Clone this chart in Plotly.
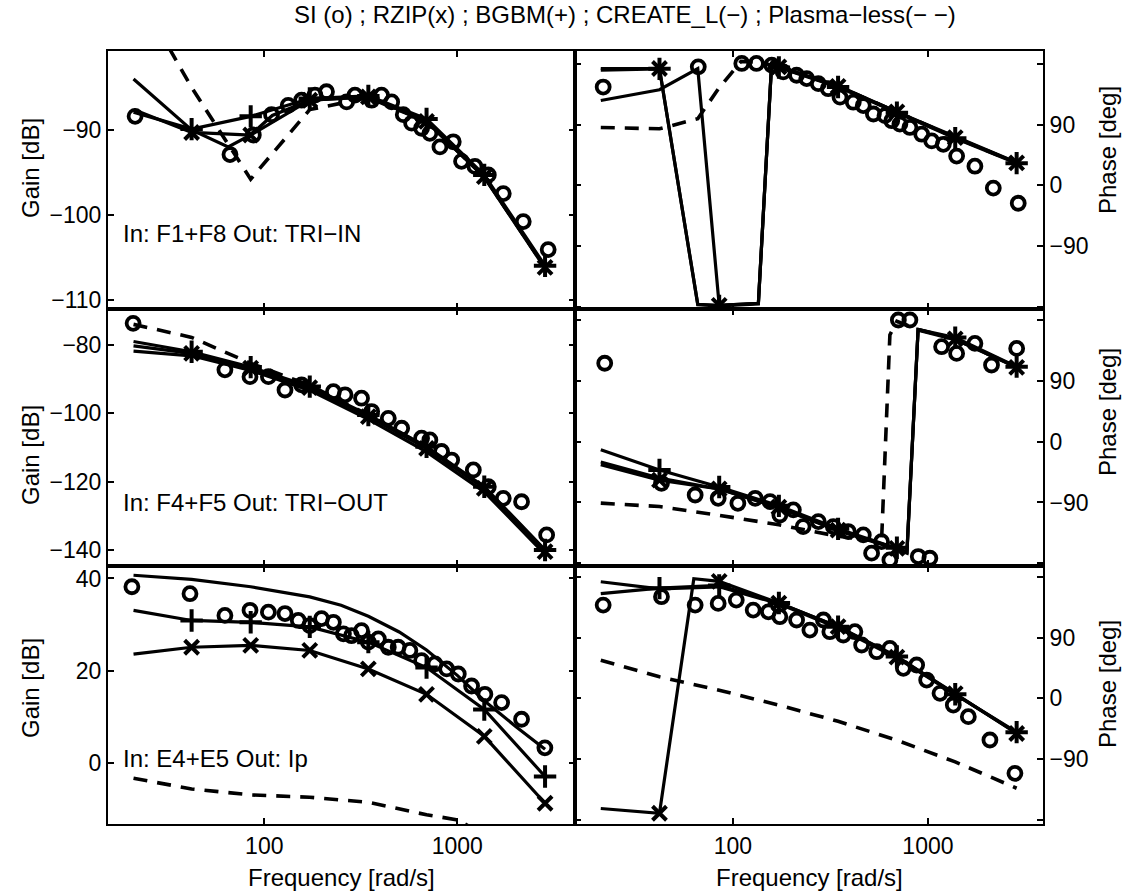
import plotly.graph_objects as go

# ---------------- data ----------------
MARK_F = [42, 85, 172, 346, 693, 1380, 2850]   # frequencies that carry x / + markers

# Panel 1 : gain, In: F1+F8 Out: TRI-IN
p1_si_f = [21.4, 66.4, 87.7, 109, 133, 156, 183, 210, 267, 295, 360, 405, 457, 525, 580,
           653, 721, 813, 953, 1052, 1235, 1448, 1731, 2197, 2958]
p1_si_v = [-88.4, -92.9, -90.6, -88.2, -87.1, -86.5, -85.9, -85.5, -86.7, -85.9, -86.5, -85.9,
           -86.7, -88.2, -89.2, -89.8, -90.4, -92.0, -91.4, -93.7, -94.3, -95.3, -97.5, -100.8, -104.1]
p1_f = [21, 42, 85, 172, 346, 693, 1380, 2850]
p1_rzip = [-87.6, -90.3, -90.6, -86.5, -86.1, -89.0, -95.5, -106.2]
p1_bgbm = [-87.9, -89.9, -88.4, -86.3, -86.0, -88.7, -95.3, -106.0]
p1_create_f = [21, 42, 65, 85, 110, 172, 346, 693, 1380, 2850]
p1_create = [-84.0, -90.0, -92.0, -90.6, -88.3, -86.5, -86.1, -89.0, -95.6, -106.3]
p1_pl = [-73.0, -85.0, -95.8, -87.6, -86.2, -89.0, -95.5, -106.2]

# Panel 2 : phase, In: F1+F8 Out: TRI-IN
p2_si_f = [21.6, 66.4, 111, 132, 158, 181, 212, 239, 274, 308, 354, 414, 466, 525, 602,
           652, 718, 808, 929, 1045, 1199, 1403, 1741, 2163, 2904]
p2_si_v = [146, 176, 181, 181, 178.5, 168.5, 163.5, 158.5, 151, 143.5, 131, 123.5, 118.5, 106,
           103.5, 96, 91, 86, 76, 66, 61, 43.5, 28.5, -4, -26.5]
p2_f = [21, 42, 66, 85, 135, 158, 172, 346, 693, 1380, 2850]
p2_rzip = [173.5, 173.5, -176.5, -178, -175, 183, 176, 147, 109, 71, 33.5]
p2_bgbm = [171, 173, -177, -179, -176, 182, 175, 146, 108, 70, 33]
p2_create = [126, 142, 173.5, -178, -175, 183, 176, 148, 109, 72, 34]
p2_pl_f = [21, 42, 66, 85, 110, 135, 172, 346, 693, 1380, 2850]
p2_pl = [86, 84, 99, 145, 184, 183, 176, 147, 109, 71, 33.5]

# Panel 3 : gain, In: F4+F5 Out: TRI-OUT
p3_si_f = [20.9, 62.5, 84.3, 105, 128, 156, 228, 262, 319, 360, 439, 515, 653, 721, 829,
           935, 1211, 1448, 1731, 2153, 2904]
p3_si_v = [-73.7, -87.3, -89.3, -89.3, -93.2, -91.7, -93.7, -94.6, -95.6, -99.5, -101.5,
           -104.4, -107.3, -107.8, -111.2, -113.7, -116.6, -121.5, -124.9, -125.9, -135.6]
p3_f = [21, 42, 85, 172, 346, 693, 1380, 2850]
p3_rzip = [-80.3, -82.5, -86.8, -92.5, -101.0, -110.3, -122.0, -140.5]
p3_bgbm = [-79.0, -82.0, -86.5, -92.2, -100.5, -109.8, -121.5, -140.0]
p3_create = [-81.8, -83.2, -87.5, -93.3, -101.8, -111.3, -123.0, -141.3]
p3_pl = [-74.0, -77.8, -85.4, -91.8, -100.5, -110.0, -121.8, -140.3]

# Panel 4 : phase, In: F4+F5 Out: TRI-OUT
p4_si_f = [22, 43, 64, 84, 106, 130, 155, 174, 204, 229, 274, 327, 390, 466, 514, 578, 638,
           705, 808, 892, 1023, 1175, 1403, 1741, 2118, 2851]
p4_si_v = [116, -61.6, -78.9, -83.8, -91.2, -83.8, -88.7, -108.5, -101, -125.7, -118.3, -125.7,
           -133, -138, -165, -148, -175, 180, 180, -170, -172.5, 140.5, 130.6, 145.4, 113.4, 138]
p4_f = [21, 42, 85, 172, 346, 693, 780, 890, 1380, 2850]
p4_rzip = [-34, -57, -70, -97, -131, -158, -164, 166, 152, 110]
p4_bgbm = [-12, -42, -67, -95, -129, -157, -163, 166, 154, 111]
p4_create = [-30, -54, -70, -98, -132, -159, -165, 165, 151, 110]
p4_pl_f = [21, 42, 85, 172, 346, 578, 638, 693, 890, 1380, 2850]
p4_pl = [-91, -96, -109, -123, -140, -148, 158, 178, 166, 152, 110]

# Panel 5 : gain, In: E4+E5 Out: Ip
p5_si_f = [20.6, 41.2, 62.5, 84.3, 105, 128, 150, 172, 198, 228, 257, 283, 319, 346, 390, 439,
           494, 568, 653, 766, 881, 1012, 1186, 1390, 1697, 2153, 2844]
p5_si_v = [38.2, 36.7, 32.0, 33.1, 32.7, 32.4, 30.9, 29.8, 31.3, 30.5, 28.0, 27.6, 28.7, 26.2,
           26.9, 25.1, 25.1, 24.4, 22.2, 21.5, 20.4, 19.3, 16.7, 14.9, 13.1, 9.5, 3.3]
p5_f = [21, 42, 85, 172, 346, 693, 1380, 2850]
p5_rzip = [23.6, 25.1, 25.5, 24.4, 20.4, 14.9, 5.8, -8.7]
p5_bgbm = [33.1, 30.9, 30.5, 29.5, 26.2, 20.7, 11.6, -2.9]
p5_create_f = [21, 42, 85, 172, 250, 346, 500, 693, 1000, 1380, 2000, 2850]
p5_create = [40.7, 39.8, 38.2, 36.0, 34.2, 31.8, 28.4, 24.5, 19.0, 13.5, 8.0, 3.0]
p5_pl_f = [21, 42, 85, 172, 346, 693, 1000, 1380]
p5_pl = [-3.3, -5.6, -6.9, -7.4, -8.5, -11.2, -12.3, -15.5]

# Panel 6 : phase, In: E4+E5 Out: Ip
p6_si_f = [21.6, 43, 64, 84, 104, 127, 152, 174, 212, 248, 291, 314, 368, 422, 457, 546, 638,
           748, 875, 985, 1153, 1349, 1611, 2079, 2793]
p6_si_v = [138, 150.4, 138, 140.5, 145.4, 130.6, 128, 120.8, 115.9, 101, 115.9, 98.6, 93.7,
           98.6, 78.9, 69, 74, 44.4, 49.3, 27.1, 7.4, -9.9, -27.1, -61.6, -111]
p6_rzip_f = [21, 42, 63, 85, 172, 346, 693, 1380, 2850]
p6_rzip = [-163, -170, 177, 173, 141, 106, 61, 7, -52]
p6_f = [21, 42, 85, 172, 346, 693, 1380, 2850]
p6_bgbm = [155, 163, 167, 141, 106, 62, 6, -50]
p6_create = [172.5, 162, 165, 140, 104, 60, 6, -51]
p6_pl = [56.5, 32, 12, -10, -34, -62, -94, -133]

TITLE = "SI (o) ; RZIP(x) ; BGBM(+) ; CREATE_L(\u2212) ; Plasma\u2212less(\u2212 \u2212)"
LABELS = ["In: F1+F8 Out: TRI\u2212IN", "In: F4+F5 Out: TRI\u2212OUT", "In: E4+E5 Out: Ip"]

panels = [
    dict(si=(p1_si_f, p1_si_v), pl=(p1_f, p1_pl), create=(p1_create_f, p1_create),
         rzip=(p1_f, p1_rzip), bgbm=(p1_f, p1_bgbm)),
    dict(si=(p2_si_f, p2_si_v), pl=(p2_pl_f, p2_pl), create=(p2_f, p2_create),
         rzip=(p2_f, p2_rzip), bgbm=(p2_f, p2_bgbm)),
    dict(si=(p3_si_f, p3_si_v), pl=(p3_f, p3_pl), create=(p3_f, p3_create),
         rzip=(p3_f, p3_rzip), bgbm=(p3_f, p3_bgbm)),
    dict(si=(p4_si_f, p4_si_v), pl=(p4_pl_f, p4_pl), create=(p4_f, p4_create),
         rzip=(p4_f, p4_rzip), bgbm=(p4_f, p4_bgbm)),
    dict(si=(p5_si_f, p5_si_v), pl=(p5_pl_f, p5_pl), create=(p5_create_f, p5_create),
         rzip=(p5_f, p5_rzip), bgbm=(p5_f, p5_bgbm)),
    dict(si=(p6_si_f, p6_si_v), pl=(p6_f, p6_pl), create=(p6_f, p6_create),
         rzip=(p6_rzip_f, p6_rzip), bgbm=(p6_f, p6_bgbm)),
]

# ---------------- styling / layout ----------------
FONT = "Liberation Sans, Arial, Helvetica, sans-serif"
BLACK = "black"
LW = 3.2

Y_RANGES = [[-111.1, -80.7], [-183.5, 199.5], [-144.7, -69.5], [-184.0, 196.3],
            [-13.2, 42.7], [-185.9, 195.8]]
GAIN_TICKS = [[-110, -100, -90], None, [-140, -120, -100, -80], None, [0, 20, 40], None]
PHASE_TICKS = [-180, -90, 0, 90, 180]
PHASE_TEXT = ["", "\u221290", "0", "90", ""]

W, H = 1126, 893
L, R, T, B = 108, 83, 51, 69
PW, PH = W - L - R, H - T - B
XSPLIT = (575 - L) / PW
ROW_EDGES = [51, 309, 566, 824]
GAIN_LABEL_Y = [168, 455, 688]
PHASE_LABEL_Y = [150, 412, 684]


def ypaper(py):
    return (H - B - py) / PH


fig = go.Figure()

for i, p in enumerate(panels):
    n = i + 1
    xa = "x" if n == 1 else f"x{n}"
    ya = "y" if n == 1 else f"y{n}"
    # Plasma-less (dashed)
    f, v = p["pl"]
    fig.add_trace(go.Scatter(x=f, y=v, xaxis=xa, yaxis=ya, mode="lines",
                             line=dict(color=BLACK, width=3.6, dash="14px,10px")))
    # CREATE_L (solid)
    f, v = p["create"]
    fig.add_trace(go.Scatter(x=f, y=v, xaxis=xa, yaxis=ya, mode="lines",
                             line=dict(color=BLACK, width=LW)))
    # RZIP and BGBM (solid lines with markers at selected points)
    for key, sym, msize in (("rzip", "x-thin-open", 14), ("bgbm", "cross-thin-open", 16)):
        f, v = p[key]
        fig.add_trace(go.Scatter(x=f, y=v, xaxis=xa, yaxis=ya, mode="lines",
                                 line=dict(color=BLACK, width=LW)))
        mf = [a for a in f if a in MARK_F]
        mv = [b for a, b in zip(f, v) if a in MARK_F]
        fig.add_trace(go.Scatter(x=mf, y=mv, xaxis=xa, yaxis=ya, mode="markers",
                                 marker=dict(symbol=sym, size=msize, color=BLACK,
                                             line=dict(color=BLACK, width=4))))
    # SI (open circles)
    f, v = p["si"]
    fig.add_trace(go.Scatter(x=f, y=v, xaxis=xa, yaxis=ya, mode="markers",
                             marker=dict(symbol="circle-open", size=13, color=BLACK,
                                         line=dict(color=BLACK, width=3.8))))

axis_common = dict(showline=True, linecolor=BLACK, linewidth=2, mirror="ticks",
                   ticks="inside", ticklen=6, tickwidth=1.5, tickcolor=BLACK,
                   showgrid=False, zeroline=False,
                   tickfont=dict(family=FONT, size=23, color=BLACK))

layout = {}
for i in range(6):
    n = i + 1
    row, col = i // 2, i % 2
    xname = "xaxis" if n == 1 else f"xaxis{n}"
    yname = "yaxis" if n == 1 else f"yaxis{n}"
    xdom = [0, XSPLIT] if col == 0 else [XSPLIT, 1]
    ydom = [ypaper(ROW_EDGES[row + 1]), ypaper(ROW_EDGES[row])]
    layout[xname] = dict(axis_common, type="log",
                         range=[1.19, 3.61] if col == 0 else [1.19, 3.59],
                         domain=xdom, anchor="y" if n == 1 else f"y{n}",
                         tickvals=[100, 1000], ticktext=["100", "1000"],
                         showticklabels=(row == 2))
    ydict = dict(axis_common, range=Y_RANGES[i], domain=ydom,
                 anchor="x" if n == 1 else f"x{n}")
    if col == 0:
        ydict.update(side="left", tickvals=GAIN_TICKS[i],
                     ticktext=[str(t).replace("-", "\u2212") for t in GAIN_TICKS[i]])
    else:
        ydict.update(side="right", tickvals=PHASE_TICKS, ticktext=PHASE_TEXT)
    layout[yname] = ydict

annotations = []
# title
annotations.append(dict(text=TITLE, x=(625 - L) / PW, y=ypaper(14), xref="paper", yref="paper",
                        showarrow=False, xanchor="center", yanchor="middle",
                        font=dict(family=FONT, size=24, color=BLACK)))
# panel labels
for row, (txt, py) in enumerate(zip(LABELS, [233, 502, 758])):
    annotations.append(dict(text=txt, x=(121 - L) / PW, y=ypaper(py), xref="paper", yref="paper",
                            showarrow=False, xanchor="left", yanchor="middle",
                            font=dict(family=FONT, size=24, color=BLACK)))
# axis titles
for row in range(3):
    annotations.append(dict(text="Gain [dB]", x=(30 - L) / PW, y=ypaper(GAIN_LABEL_Y[row]),
                            xref="paper", yref="paper", showarrow=False, textangle=-90,
                            xanchor="center", yanchor="middle",
                            font=dict(family=FONT, size=24, color=BLACK)))
    annotations.append(dict(text="Phase [deg]", x=(1107 - L) / PW, y=ypaper(PHASE_LABEL_Y[row]),
                            xref="paper", yref="paper", showarrow=False, textangle=-90,
                            xanchor="center", yanchor="middle",
                            font=dict(family=FONT, size=24, color=BLACK)))
for xc in (341, 809):
    annotations.append(dict(text="Frequency [rad/s]", x=(xc - L) / PW, y=ypaper(877),
                            xref="paper", yref="paper", showarrow=False,
                            xanchor="center", yanchor="middle",
                            font=dict(family=FONT, size=24, color=BLACK)))

fig.update_layout(width=W, height=H, margin=dict(l=L, r=R, t=T, b=B, autoexpand=False),
                  paper_bgcolor="white", plot_bgcolor="white", showlegend=False,
                  font=dict(family=FONT, size=23, color=BLACK),
                  annotations=annotations, **layout)

fig.write_html("out.html")
